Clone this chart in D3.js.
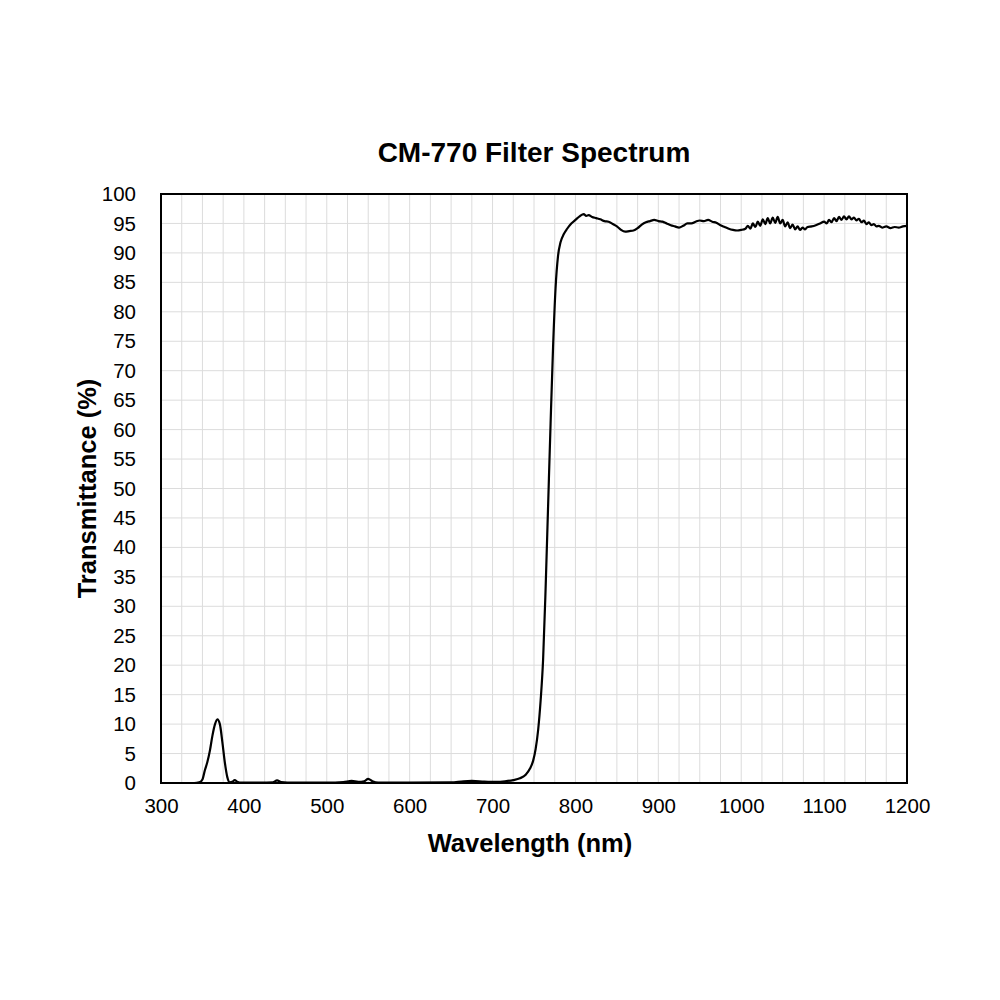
<!DOCTYPE html>
<html>
<head>
<meta charset="utf-8">
<script src="https://d3js.org/d3.v7.min.js"></script>
<style>
  body { margin: 0; background: #fff; }
  text { font-family: "Liberation Sans", Arial, sans-serif; fill: #000; }
</style>
</head>
<body>
<div id="my_dataviz"></div>
<script>
// wavelength (nm) and transmittance (%)
var wavelength = [300, 340, 346, 350, 353, 356, 359, 362, 365, 368, 371, 374, 377, 380, 383, 386, 389, 392, 395,
  420, 435, 440, 445, 460, 500, 520, 530, 538, 545, 550, 555, 562, 600, 650, 665, 675, 690, 705, 715, 725, 733,
  740, 745, 749, 752, 755, 758, 761, 764, 767, 770, 773, 776, 779, 782, 786, 790, 795, 800, 805, 810, 813, 816,
  820, 825, 830, 835, 840, 845, 850, 855, 860, 865, 870, 875, 880, 885, 890, 895, 900, 905, 910, 915, 920, 925,
  930, 935, 940, 945, 950, 955, 960, 965, 970, 975, 980, 985, 990, 995, 1000, 1005, 1008, 1011, 1014, 1017, 1020,
  1023, 1026, 1029, 1032, 1035, 1038, 1041, 1044, 1047, 1050, 1053, 1056, 1059, 1062, 1065, 1068, 1071, 1074,
  1077, 1080, 1085, 1090, 1095, 1100, 1103, 1106, 1109, 1112, 1115, 1118, 1121, 1124, 1127, 1130, 1133, 1136,
  1139, 1142, 1145, 1148, 1151, 1154, 1157, 1160, 1163, 1166, 1170, 1175, 1180, 1185, 1190, 1195, 1200];
var transmittance = [0, 0, 0.1, 0.6, 2.2, 3.6, 5.5, 8.0, 9.9, 10.8, 10.0, 7.0, 3.5, 1.0, 0.1, 0.2, 0.5, 0.2, 0.05,
  0.05, 0.1, 0.45, 0.15, 0.05, 0.05, 0.15, 0.35, 0.2, 0.3, 0.7, 0.3, 0.05, 0.05, 0.1, 0.3, 0.35, 0.25, 0.2, 0.3, 0.5, 0.8,
  1.4, 2.4, 3.8, 5.8, 9, 14, 21, 33, 47, 61, 74, 84, 89.5, 91.8, 93.2, 94.1, 95.0, 95.6, 96.2, 96.6, 96.3, 96.4,
  96.1, 95.9, 95.7, 95.4, 95.3, 94.9, 94.5, 93.9, 93.6, 93.7, 93.8, 94.2, 94.8, 95.2, 95.4, 95.6, 95.4, 95.3, 95.0, 94.7, 94.5, 94.3,
  94.6, 95.0, 95.0, 95.3, 95.5, 95.4, 95.6, 95.3, 95.1, 94.7, 94.4, 94.1, 93.9, 93.8, 93.9, 94.1, 94.6, 94.1, 95.0, 94.4, 95.3,
  94.6, 95.7, 94.9, 95.9, 95.0, 96.0, 95.1, 96.1, 95.0, 95.6, 94.5, 95.2, 94.2, 94.8, 94.0, 94.5, 93.9, 94.3,
  94.0, 94.4, 94.5, 94.7, 95.0, 95.3, 95.0, 95.6, 95.2, 95.9, 95.4, 96.1, 95.6, 96.2, 95.7, 96.2, 95.7, 96.0,
  95.5, 95.8, 95.2, 95.5, 94.9, 95.2, 94.7, 94.9, 94.5, 94.6, 94.3, 94.5, 94.2, 94.4, 94.3, 94.5, 94.6];

var xTicks = [300, 400, 500, 600, 700, 800, 900, 1000, 1100, 1200];
var yTicks = [0, 5, 10, 15, 20, 25, 30, 35, 40, 45, 50, 55, 60, 65, 70, 75, 80, 85, 90, 95, 100];

var margin = {top: 194, right: 93, bottom: 217, left: 161},
    width = 1000 - margin.left - margin.right,
    height = 1000 - margin.top - margin.bottom;

var svg = d3.select("#my_dataviz")
  .append("svg")
    .attr("width", 1000)
    .attr("height", 1000)
  .append("g")
    .attr("transform", "translate(" + margin.left + "," + margin.top + ")");

var x = d3.scaleLinear().domain([300, 1200]).range([0, width]);
var y = d3.scaleLinear().domain([0, 100]).range([height, 0]);

// light grid: every 25 nm and every 5 %
svg.append("g")
  .selectAll("line")
  .data(d3.range(325, 1200, 25))
  .enter().append("line")
    .attr("x1", function (d) { return x(d); })
    .attr("x2", function (d) { return x(d); })
    .attr("y1", 0)
    .attr("y2", height)
    .attr("stroke", "#dcdcdc")
    .attr("stroke-width", 1);

svg.append("g")
  .selectAll("line")
  .data(yTicks.slice(1, -1))
  .enter().append("line")
    .attr("x1", 0)
    .attr("x2", width)
    .attr("y1", function (d) { return y(d); })
    .attr("y2", function (d) { return y(d); })
    .attr("stroke", "#dcdcdc")
    .attr("stroke-width", 1);

// axes (labels only, no tick marks)
var xAxis = d3.axisBottom(x).tickValues(xTicks).tickFormat(d3.format("d")).tickSize(0).tickPadding(15);
var yAxis = d3.axisLeft(y).tickValues(yTicks).tickFormat(d3.format("d")).tickSize(0).tickPadding(25);

var gx = svg.append("g")
  .attr("transform", "translate(0," + height + ")")
  .call(xAxis);
var gy = svg.append("g").call(yAxis);

[gx, gy].forEach(function (g) {
  g.select(".domain").remove();
  g.selectAll("text")
    .style("font-family", "'Liberation Sans', Arial, sans-serif")
    .style("font-size", "20.5px")
    .attr("fill", "#000");
});

// spectrum line
var data = wavelength.map(function (w, i) { return {w: w, t: transmittance[i]}; });

var line = d3.line()
  .x(function (d) { return x(d.w); })
  .y(function (d) { return y(d.t); })
  .curve(d3.curveMonotoneX);

svg.append("path")
  .datum(data)
  .attr("d", line)
  .attr("fill", "none")
  .attr("stroke", "#000")
  .attr("stroke-width", 2.2)
  .attr("stroke-linejoin", "round");

// plot frame
svg.append("rect")
  .attr("x", 0)
  .attr("y", 0)
  .attr("width", width)
  .attr("height", height)
  .attr("fill", "none")
  .attr("stroke", "#000")
  .attr("stroke-width", 2);

// titles
svg.append("text")
  .attr("x", width / 2)
  .attr("y", -32)
  .attr("text-anchor", "middle")
  .style("font-size", "28px")
  .style("font-weight", "bold")
  .text("CM-770 Filter Spectrum");

svg.append("text")
  .attr("x", width / 2 - 4)
  .attr("y", height + 69)
  .attr("text-anchor", "middle")
  .style("font-size", "25.5px")
  .style("font-weight", "bold")
  .text("Wavelength (nm)");

svg.append("text")
  .attr("transform", "translate(-65," + (height / 2) + ") rotate(-90)")
  .attr("text-anchor", "middle")
  .style("font-size", "25.5px")
  .style("font-weight", "bold")
  .text("Transmittance (%)");
</script>
</body>
</html>
